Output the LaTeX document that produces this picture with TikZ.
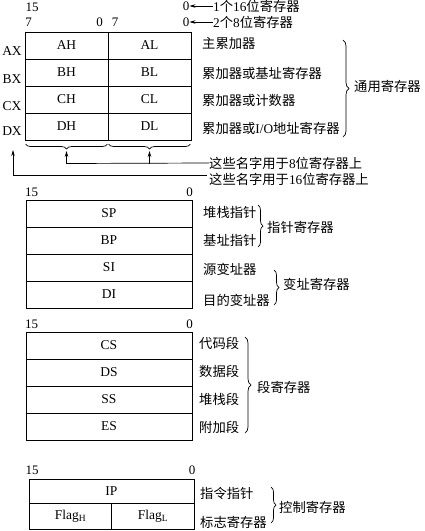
\documentclass[tikz,border=0pt]{standalone}
\usepackage{fontspec}
\setmainfont{Liberation Serif}
\newfontfamily\cjk{Noto Sans CJK SC}
\usetikzlibrary{decorations.pathreplacing,arrows.meta}
\newcommand{\zh}[1]{{\cjk #1}}
\begin{document}
\begin{tikzpicture}[x=1pt,y=-1pt,
  every node/.style={font=\fontsize{13.5}{15}\selectfont, inner sep=0pt},
  cell/.style={draw, line width=0.8pt, minimum height=27pt, anchor=center},
  lab/.style={anchor=west, font=\fontsize{13.3}{15}\selectfont},
  num/.style={font=\fontsize{13}{15}\selectfont},
  brc/.style={decorate, decoration={brace, amplitude=5pt}, line width=0.7pt},
  arr/.style={line width=0.7pt, -{Stealth[length=6pt,width=3.5pt]}}]
\useasboundingbox (0,0) rectangle (424,531);

% ---------- general registers ----------
\node[num] (n15a) at (32,7) {15};
\node[num] (n7a) at (28.5,22) {7};
\node[num] (n0a) at (99.5,22) {0};
\node[num] (n7b) at (115,22) {7};
\node[num] (n0b) at (186,6) {0};
\node[num] (n0c) at (186,22) {0};
\node[lab] (t16r) at (213,6) {1\zh{个}16\zh{位寄存器}};
\node[lab] (t8r) at (213,22) {2\zh{个}8\zh{位寄存器}};
\draw[arr] (t16r.west) -- (n0b.east);
\draw[arr] (t8r.west) -- (n0c.east);

\foreach \r/\y in {A/45.5,B/72.5,C/99.5,D/126.5}{
  \node[cell, minimum width=83pt] (\r H) at (66.5,\y) {\r H};
  \node[cell, minimum width=83pt] (\r L) at (149.5,\y) {\r L};
}
\node (AX) at (12,51) {AX};
\node (BX) at (12,79) {BX};
\node (CX) at (12,106) {CX};
\node (DX) at (12,131) {DX};

\node[lab] (g1) at (202,43) {\zh{主累加器}};
\node[lab] (g2) at (202,73) {\zh{累加器或基址寄存器}};
\node[lab] (g3) at (202,100) {\zh{累加器或计数器}};
\node[lab] (g4) at (202,128) {\zh{累加器或}I/O\zh{地址寄存器}};
\draw[brc, decoration={amplitude=6pt}] (343,40) -- (343,137);
\node[lab] (gen) at (354,86) {\zh{通用寄存器}};

\draw[brc, decoration={mirror}] (25.5,144) -- (107.5,144);
\draw[brc, decoration={mirror}] (108.5,144) -- (190.5,144);
\coordinate (tipH) at (66.5,151);
\coordinate (tipL) at (149.5,151);
\node[lab] (t8) at (209,163) {\zh{这些名字用于}8\zh{位寄存器上}};
\coordinate (b8) at (66.5,163.5);
\coordinate (c8) at (149.5,163.5);
\draw[line width=0.7pt] (t8.west) -- (b8);
\draw[arr] (b8) -- (tipH);
\draw[arr] (c8) -- (tipL);
\node[lab] (t16) at (209,179) {\zh{这些名字用于}16\zh{位寄存器上}};
\coordinate (e16) at (207,175);
\coordinate (k16) at (13,175);
\coordinate (u16) at (13,150);
\draw[line width=0.7pt] (e16) -- (k16);
\draw[arr] (k16) -- (u16);

% ---------- pointer & index registers ----------
\node[num] (n15b) at (31.5,192) {15};
\node[num] (n0d) at (189.5,192) {0};
\node[cell, minimum width=166pt] (SP) at (109,213.5) {SP};
\node[cell, minimum width=166pt] (BP) at (109,240.5) {BP};
\node[cell, minimum width=166pt] (SI) at (109,267.5) {SI};
\node[cell, minimum width=166pt] (DI) at (109,294.5) {DI};
\node[lab] (p1) at (203,212) {\zh{堆栈指针}};
\node[lab] (p2) at (203,240) {\zh{基址指针}};
\draw[brc] (258,205) -- (258,247);
\node[lab] (ptr) at (267,227) {\zh{指针寄存器}};
\node[lab] (i1) at (203,269) {\zh{源变址器}};
\node[lab] (i2) at (203,300) {\zh{目的变址器}};
\draw[brc] (274,270) -- (274,305);
\node[lab] (idx) at (283,284) {\zh{变址寄存器}};

% ---------- segment registers ----------
\node[num] (n15c) at (31.5,324) {15};
\node[num] (n0e) at (189.5,324) {0};
\node[cell, minimum width=166pt] (CS) at (109,345.5) {CS};
\node[cell, minimum width=166pt] (DS) at (109,372.5) {DS};
\node[cell, minimum width=166pt] (SS) at (109,399.5) {SS};
\node[cell, minimum width=166pt] (ES) at (109,426.5) {ES};
\node[lab] (s1) at (199,343) {\zh{代码段}};
\node[lab] (s2) at (199,371) {\zh{数据段}};
\node[lab] (s3) at (199,399) {\zh{堆栈段}};
\node[lab] (s4) at (199,427) {\zh{附加段}};
\draw[brc, decoration={amplitude=6pt}] (245,337) -- (245,433);
\node[lab] (seg) at (257,387) {\zh{段寄存器}};

% ---------- control registers ----------
\node[num] (n15d) at (32,470) {15};
\node[num] (n0f) at (192,470) {0};
\node[cell, minimum width=165pt, minimum height=24pt] (IP) at (111.5,491) {IP};
\node[cell, minimum width=82pt, minimum height=26pt] (FH) at (70.5,516) {Flag\textsubscript{H}};
\node[cell, minimum width=83pt, minimum height=26pt] (FL) at (153,516) {Flag\textsubscript{L}};
\node[lab] (c1) at (200,493) {\zh{指令指针}};
\node[lab] (c2) at (200,522) {\zh{标志寄存器}};
\draw[brc] (271,487) -- (271,523);
\node[lab] (ctl) at (279,507) {\zh{控制寄存器}};
\end{tikzpicture}
\end{document}
